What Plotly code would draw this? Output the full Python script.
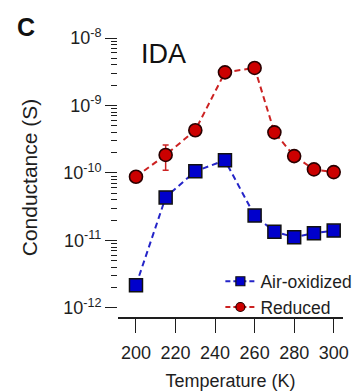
import plotly.graph_objects as go

# Temperature sweep (K)
temperature = [200, 215, 230, 245, 260, 270, 280, 290, 300]

# Conductance (S) of the IDA device in each state
air_oxidized = [2.17e-12, 4.35e-11, 1.06e-10, 1.54e-10, 2.34e-11, 1.35e-11, 1.12e-11, 1.28e-11, 1.40e-11]
reduced = [8.8e-11, 1.85e-10, 4.3e-10, 3.1e-9, 3.6e-9, 4.0e-10, 1.78e-10, 1.13e-10, 1.03e-10]

# Asymmetric error on the reduced series (only resolvable at 215 K)
reduced_err_plus = [0, 0.75e-10, 0, 0, 0, 0, 0, 0, 0]
reduced_err_minus = [0, 0.75e-10, 0, 0, 0, 0, 0, 0, 0]

x_ticks = [200, 220, 240, 260, 280, 300]
y_tickvals = [1e-12, 1e-11, 1e-10, 1e-9, 1e-8]
y_ticktext = ["10<sup>-12</sup>", "10<sup>-11</sup>", "10<sup>-10</sup>", "10<sup>-9</sup>", "10<sup>-8</sup>"]
y_minor = [m * 10.0 ** e for e in range(-12, -8) for m in range(2, 10)]

FONT = "Liberation Sans, Arial, Helvetica, sans-serif"
INK = "#1e1e1e"
BLUE_LINE = "#2424c8"
BLUE_FILL = "#0000cc"
RED_LINE = "#cc2222"
RED_FILL = "#cc0000"

fig = go.Figure()

fig.add_trace(go.Scatter(
    x=temperature, y=air_oxidized, mode="lines+markers", showlegend=False,
    line=dict(color=BLUE_LINE, width=2, dash="6px,4px"),
    marker=dict(symbol="square", size=13, color=BLUE_FILL, line=dict(color="#111111", width=1.5)),
))
fig.add_trace(go.Scatter(
    x=temperature, y=reduced, mode="lines+markers", showlegend=False,
    line=dict(color=RED_LINE, width=2, dash="6px,4px"),
    error_y=dict(type="data", symmetric=False, array=reduced_err_plus, arrayminus=reduced_err_minus,
                 color=RED_LINE, thickness=1.5, width=3),
    marker=dict(symbol="circle", size=13, color=RED_FILL, line=dict(color="#2a0000", width=1.6)),
))

# Legend entries with smaller symbols
fig.add_trace(go.Scatter(
    x=[None], y=[None], mode="lines+markers", name="Air-oxidized",
    line=dict(color=BLUE_LINE, width=2, dash="5px,3px"),
    marker=dict(symbol="square", size=9, color=BLUE_FILL, line=dict(color="#111111", width=1.2)),
))
fig.add_trace(go.Scatter(
    x=[None], y=[None], mode="lines+markers", name="Reduced",
    line=dict(color=RED_LINE, width=2, dash="5px,3px"),
    marker=dict(symbol="circle", size=9, color=RED_FILL, line=dict(color="#2a0000", width=1.2)),
))

fig.update_layout(
    width=356, height=391,
    margin=dict(l=118, r=13, t=38.3, b=74.3, pad=0, autoexpand=False),
    paper_bgcolor="white", plot_bgcolor="white",
    font=dict(family=FONT, color=INK, size=18),
    xaxis=dict(
        range=[190.9, 304.7], tickvals=x_ticks, ticks="outside", ticklen=14, tickwidth=1.3,
        tickcolor=INK, showline=True, linecolor=INK, linewidth=1.5, showgrid=False, zeroline=False,
        tickfont=dict(size=18), ticklabelstandoff=5, automargin=False,
        title=dict(text="Temperature (K)", font=dict(size=18), standoff=14),
    ),
    yaxis=dict(
        type="log", range=[-12.134, -8], tickvals=y_tickvals, ticktext=y_ticktext,
        ticks="outside", ticklen=12, tickwidth=1.3, tickcolor=INK, automargin=False,
        showline=False, showgrid=False, zeroline=False, tickfont=dict(size=18),
        minor=dict(tickvals=y_minor, ticks="outside", ticklen=6, tickwidth=1.1, tickcolor=INK, showgrid=False),
        title=dict(text="Conductance (S)", font=dict(size=21), standoff=19),
    ),
    legend=dict(
        x=0.455, y=-0.03, xanchor="left", yanchor="bottom", bgcolor="rgba(0,0,0,0)",
        font=dict(size=17.5), tracegroupgap=0, itemwidth=30,
    ),
    shapes=[dict(type="line", xref="paper", yref="y", x0=0, x1=0, y0=-12, y1=-8,
                 line=dict(color=INK, width=1.5))],
    annotations=[
        dict(text="<b>C</b>", xref="paper", yref="paper", x=-0.409, y=1.04, showarrow=False,
             xanchor="center", yanchor="middle", font=dict(size=25, color="#111111")),
        dict(text="IDA", xref="paper", yref="paper", x=0.2, y=0.943, showarrow=False,
             xanchor="center", yanchor="middle", font=dict(size=27, color="#111111")),
    ],
)

fig.write_html("out.html")
